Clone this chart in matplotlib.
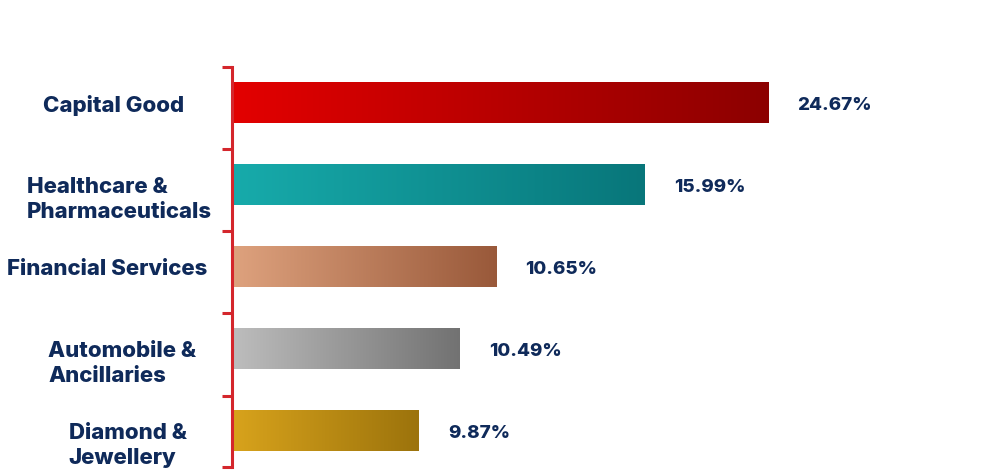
import numpy as np
import matplotlib
matplotlib.use("Agg")
from matplotlib import pyplot as plt
from matplotlib.colors import LinearSegmentedColormap

# chart data (top to bottom)
sectors = ["Capital Good", "Healthcare &\nPharmaceuticals", "Financial Services",
           "Automobile &\nAncillaries", "Diamond &\nJewellery"]
bar_length = [24.67, 19.0, 12.15, 10.49, 8.6]   # drawn bar lengths
value_labels = ["24.67%", "15.99%", "10.65%", "10.49%", "9.87%"]
grad_start = ["#e30000", "#17abab", "#dea27e", "#bdbdbd", "#d8a31c"]
grad_end = ["#8c0000", "#08767a", "#99593a", "#727272", "#9c730c"]

navy = "#0f2a5a"
red = "#d4262c"
plt.rcParams['font.family'] = ['Inter', 'DejaVu Sans']

fig = plt.figure(figsize=(10.03, 4.74), dpi=100)
ax = fig.add_axes([232 / 1003, 1 - 467 / 474, 758 / 1003, 400 / 474])

y = np.arange(len(sectors))
bars = ax.barh(y, bar_length, height=0.5, color="none", edgecolor="none", left=0)

# left-to-right gradient inside every bar
grad = np.linspace(0, 1, 256).reshape(1, -1)
for b, c0, c1 in zip(bars, grad_start, grad_end):
    cmap = LinearSegmentedColormap.from_list("g", [c0, c1])
    x0, y0 = b.get_x(), b.get_y()
    im = ax.imshow(grad, cmap=cmap, aspect="auto", zorder=2,
                   extent=[x0, x0 + b.get_width(), y0 + b.get_height(), y0])
    im.set_clip_path(b)

ax.set_xlim(0, 34.88)
ax.set_ylim(4.44, -0.43)

# value labels
for yi, v, lab in zip(y, bar_length, value_labels):
    ax.annotate(lab, (v, yi), xytext=(21, -2), textcoords="offset points",
                va="center", ha="left", fontsize=13.5, fontweight="heavy", color=navy)

# category labels, left of the axis (the original centres them a little unevenly)
label_dx = [-85, -81, -90, -79, -75]
for yi, name, dx in zip(y, sectors, label_dx):
    ax.annotate(name, (0, yi), xycoords=("axes fraction", "data"),
                xytext=(dx, 5.5), textcoords="offset points",
                va="top", ha="center", multialignment="left",
                fontsize=16, fontweight="heavy", color=navy, linespacing=1.32)

# red y axis with tick marks between the categories
for s in ["top", "right", "bottom"]:
    ax.spines[s].set_visible(False)
ax.spines["left"].set_color(red)
ax.spines["left"].set_linewidth(2.2)
ax.set_xticks([])
ax.set_yticks(list(np.arange(-1, 4) + 0.57) + [4.44])
ax.set_yticklabels([])
ax.tick_params(axis="y", length=7, width=2.2, color=red, direction="out")

fig.savefig("out.png", dpi=100)
